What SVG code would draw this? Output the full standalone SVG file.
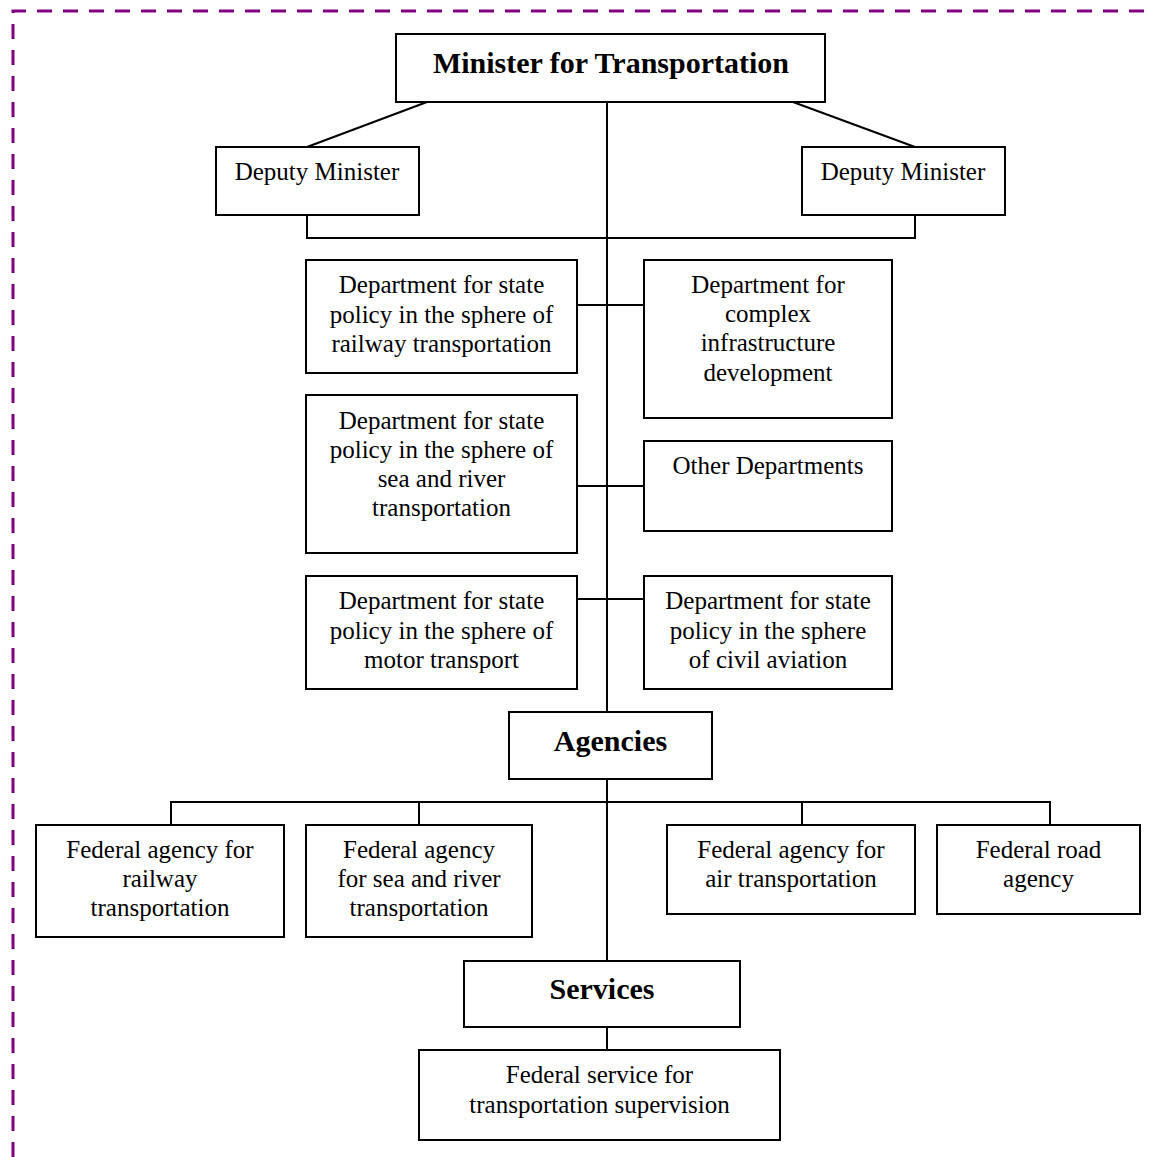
<svg xmlns="http://www.w3.org/2000/svg" width="1152" height="1157" viewBox="0 0 1152 1157">
<style>
.box{fill:#fff;stroke:#000;stroke-width:2}
.t{font-family:"Liberation Serif","Times New Roman",serif;font-size:25px;fill:#000;text-anchor:middle}
.b{font-family:"Liberation Serif","Times New Roman",serif;font-size:30px;font-weight:bold;fill:#000;text-anchor:middle}
.ln{fill:none;stroke:#000;stroke-width:2}
</style>
<rect width="1152" height="1157" fill="#fff"/>
<path d="M13,1157 V11 H1152" fill="none" stroke="#800080" stroke-width="3" stroke-dasharray="15 11"/>
<g id="connectors" class="ln">
<path d="M607,102 V961"/>
<path d="M427,102 L307,147"/>
<path d="M793,102 L915,147"/>
<path d="M307,215 V238 H915 V215"/>
<path d="M577,305 H644"/>
<path d="M577,486 H644"/>
<path d="M577,599 H644"/>
<path d="M171,825 V802 H1050 V825"/>
<path d="M419,802 V825"/>
<path d="M802,802 V825"/>
<path d="M607,1027 V1050"/>
</g>
<g id="minister"><rect class="box" x="396" y="34" width="429" height="68"/><text class="b" x="611" y="73">Minister for Transportation</text></g>
<g id="deputy1"><rect class="box" x="216" y="147" width="203" height="68"/><text class="t" x="317" y="180">Deputy Minister</text></g>
<g id="deputy2"><rect class="box" x="802" y="147" width="203" height="68"/><text class="t" x="903" y="180">Deputy Minister</text></g>
<g id="dept-rail"><rect class="box" x="306" y="260" width="271" height="113"/><text class="t" x="441.5" y="293">Department for state<tspan x="441.5" dy="29.5">policy in the sphere of</tspan><tspan x="441.5" dy="29.5">railway transportation</tspan></text></g>
<g id="dept-infra"><rect class="box" x="644" y="260" width="248" height="158"/><text class="t" x="768" y="293">Department for<tspan x="768" dy="29.2">complex</tspan><tspan x="768" dy="29.2">infrastructure</tspan><tspan x="768" dy="29.2">development</tspan></text></g>
<g id="dept-sea"><rect class="box" x="306" y="395" width="271" height="158"/><text class="t" x="441.5" y="428.5">Department for state<tspan x="441.5" dy="29.2">policy in the sphere of</tspan><tspan x="441.5" dy="29.2">sea and river</tspan><tspan x="441.5" dy="29.2">transportation</tspan></text></g>
<g id="dept-other"><rect class="box" x="644" y="441" width="248" height="90"/><text class="t" x="768" y="474">Other Departments</text></g>
<g id="dept-motor"><rect class="box" x="306" y="576" width="271" height="113"/><text class="t" x="441.5" y="609">Department for state<tspan x="441.5" dy="29.5">policy in the sphere of</tspan><tspan x="441.5" dy="29.5">motor transport</tspan></text></g>
<g id="dept-civil"><rect class="box" x="644" y="576" width="248" height="113"/><text class="t" x="768" y="609">Department for state<tspan x="768" dy="29.5">policy in the sphere</tspan><tspan x="768" dy="29.5">of civil aviation</tspan></text></g>
<g id="agencies"><rect class="box" x="509" y="712" width="203" height="67"/><text class="b" x="610.5" y="751">Agencies</text></g>
<g id="agency-rail"><rect class="box" x="36" y="825" width="248" height="112"/><text class="t" x="160" y="858">Federal agency for<tspan x="160" dy="29">railway</tspan><tspan x="160" dy="29">transportation</tspan></text></g>
<g id="agency-sea"><rect class="box" x="306" y="825" width="226" height="112"/><text class="t" x="419" y="858">Federal agency<tspan x="419" dy="29">for sea and river</tspan><tspan x="419" dy="29">transportation</tspan></text></g>
<g id="agency-air"><rect class="box" x="667" y="825" width="248" height="89"/><text class="t" x="791" y="858">Federal agency for<tspan x="791" dy="29">air transportation</tspan></text></g>
<g id="agency-road"><rect class="box" x="937" y="825" width="203" height="89"/><text class="t" x="1038.5" y="858">Federal road<tspan x="1038.5" dy="29">agency</tspan></text></g>
<g id="services"><rect class="box" x="464" y="961" width="276" height="66"/><text class="b" x="602" y="999">Services</text></g>
<g id="service-supervision"><rect class="box" x="419" y="1050" width="361" height="90"/><text class="t" x="599.5" y="1083">Federal service for<tspan x="599.5" dy="30">transportation supervision</tspan></text></g>
</svg>
